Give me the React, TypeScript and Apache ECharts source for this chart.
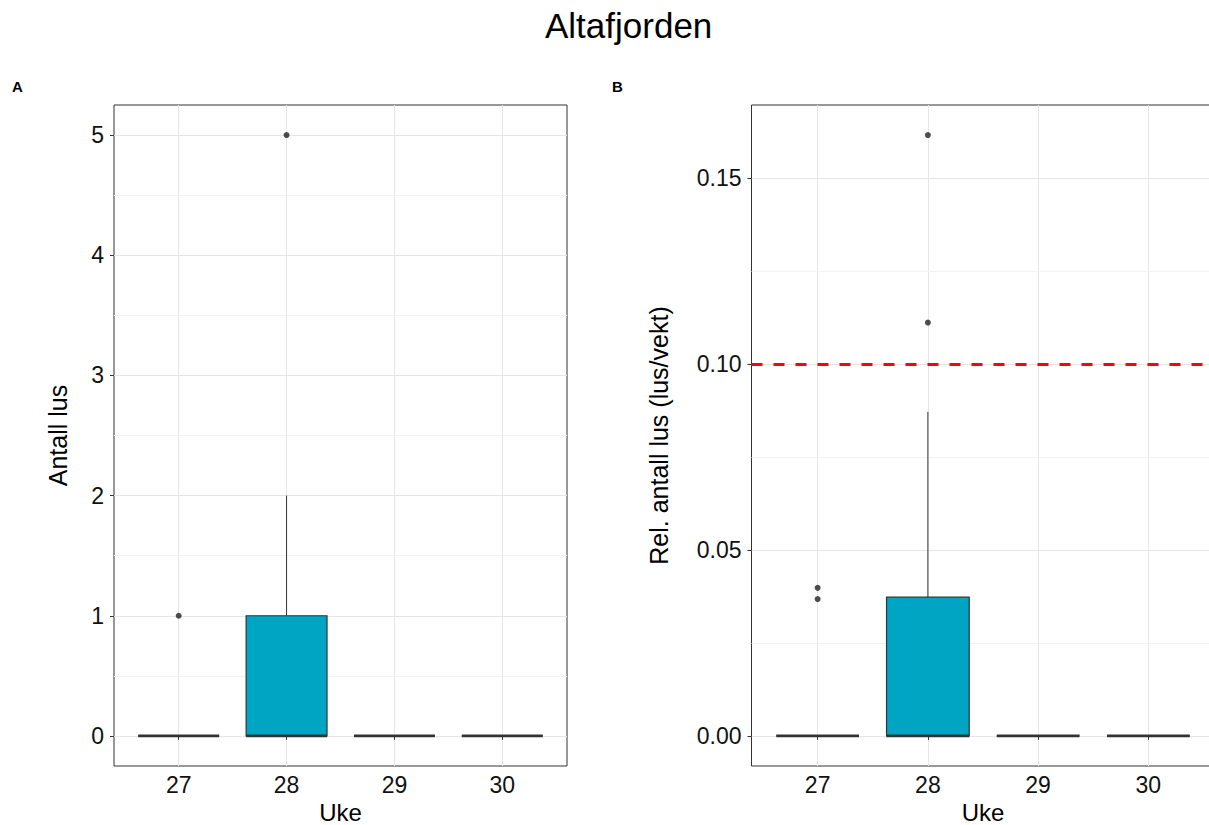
import React, { useEffect, useRef } from "react";
import * as echarts from "echarts";

// ---- data ----
const weeks = [27, 28, 29, 30];
// [min, Q1, median, Q3, max(whisker)] per week
const countStats = [
  [0, 0, 0, 0, 0],
  [0, 0, 0, 1, 2],
  [0, 0, 0, 0, 0],
  [0, 0, 0, 0, 0],
];
const countOutliers = [
  [27, 1],
  [28, 5],
];
const relStats = [
  [0, 0, 0, 0, 0],
  [0, 0, 0, 0.0373, 0.0871],
  [0, 0, 0, 0, 0],
  [0, 0, 0, 0, 0],
];
const relOutliers = [
  [27, 0.0398],
  [27, 0.0368],
  [28, 0.1111],
  [28, 0.1615],
];
const threshold = 0.1;
const countTicks = [0, 1, 2, 3, 4, 5];
const countMinorTicks = [0.5, 1.5, 2.5, 3.5, 4.5];
const relTicks = [0, 0.05, 0.1, 0.15];
const relMinorTicks = [0.025, 0.075, 0.125];

const BOX_FILL = "#00A5C4";
const DARK = "#333333";
const FONT = "Liberation Sans, Arial, sans-serif";
const BOX_HALF = 0.375;

const expand = (lo: number, hi: number) => {
  const r = hi - lo;
  return [lo - r * 0.05, hi + r * 0.05];
};

const boxData = (stats: number[][]) => weeks.map((w, i) => [w, ...stats[i]]);

const renderBox = (params: any, api: any) => {
  const x = api.value(0);
  const lo = api.value(1);
  const q1 = api.value(2);
  const med = api.value(3);
  const q3 = api.value(4);
  const hi = api.value(5);
  const tl = api.coord([x - BOX_HALF, q3]);
  const br = api.coord([x + BOX_HALF, q1]);
  const mL = api.coord([x - BOX_HALF, med]);
  const mR = api.coord([x + BOX_HALF, med]);
  const wt0 = api.coord([x, q3]);
  const wt1 = api.coord([x, hi]);
  const wb0 = api.coord([x, q1]);
  const wb1 = api.coord([x, lo]);
  return {
    type: "group",
    children: [
      {
        type: "line",
        shape: { x1: wt0[0], y1: wt0[1], x2: wt1[0], y2: wt1[1] },
        style: { stroke: DARK, lineWidth: 1 },
      },
      {
        type: "line",
        shape: { x1: wb0[0], y1: wb0[1], x2: wb1[0], y2: wb1[1] },
        style: { stroke: DARK, lineWidth: 1 },
      },
      {
        type: "rect",
        shape: { x: tl[0], y: tl[1], width: br[0] - tl[0], height: br[1] - tl[1] },
        style: { fill: BOX_FILL, stroke: DARK, lineWidth: 1.2 },
      },
      {
        type: "line",
        shape: { x1: mL[0], y1: mL[1], x2: mR[0], y2: mR[1] },
        style: { stroke: DARK, lineWidth: 2.8 },
      },
    ],
  };
};

export default function App() {
  const ref = useRef<HTMLDivElement>(null);
  useEffect(() => {
    if (!ref.current) return;
    const chart = echarts.init(ref.current, null, { renderer: "svg" });
    const [cMin, cMax] = expand(0, 5);
    const relMaxData = Math.max(...relOutliers.map((o) => o[1]));
    const [rMin, rMax] = expand(0, relMaxData);

    const xAxisBase = (gridIndex: number) => ({
      gridIndex,
      type: "value",
      min: 26.4,
      max: 30.6,
      axisLine: { show: false },
      axisTick: {
        show: true,
        length: 4,
        lineStyle: { color: DARK, width: 1 },
        customValues: weeks,
      },
      axisLabel: {
        customValues: weeks,
        fontSize: 23,
        color: "#111",
        fontFamily: FONT,
        margin: 7,
      },
      splitLine: { show: true, lineStyle: { color: "#e6e6e6", width: 1 } },
      name: "Uke",
      nameLocation: "middle",
      nameGap: 30,
      nameTextStyle: { fontSize: 24, color: "#000", fontFamily: FONT },
    });

    const yMajor = (
      gridIndex: number,
      min: number,
      max: number,
      ticks: number[],
      name: string,
      nameGap: number,
      digits: number
    ) => ({
      gridIndex,
      type: "value",
      min,
      max,
      axisLine: { show: false },
      axisTick: {
        show: true,
        length: 4,
        lineStyle: { color: DARK, width: 1 },
        customValues: ticks,
      },
      axisLabel: {
        customValues: ticks,
        fontSize: 23,
        color: "#111",
        fontFamily: FONT,
        margin: 10,
        formatter: (v: number) => v.toFixed(digits),
      },
      splitLine: { show: true, lineStyle: { color: "#e6e6e6", width: 1 } },
      name,
      nameLocation: "middle",
      nameGap,
      nameTextStyle: { fontSize: 25, color: "#000", fontFamily: FONT },
      z: 3,
    });

    const yMinor = (gridIndex: number, min: number, max: number, ticks: number[]) => ({
      gridIndex,
      type: "value",
      position: "left",
      min,
      max,
      axisLine: { show: false },
      axisTick: { show: false, customValues: ticks },
      axisLabel: { show: false, customValues: ticks },
      splitLine: { show: true, lineStyle: { color: "#f2f2f2", width: 1 } },
      z: 1,
    });

    chart.setOption({
      animation: false,
      backgroundColor: "#ffffff",
      title: {
        text: "Altafjorden",
        left: 540,
        top: 3,
        textStyle: { fontSize: 35, fontWeight: "normal", color: "#000", fontFamily: FONT },
      },
      graphic: [
        {
          type: "text",
          left: 12,
          top: 79,
          style: { text: "A", fontSize: 15, fontWeight: "bold", fill: "#000", fontFamily: FONT },
        },
        {
          type: "text",
          left: 612,
          top: 79,
          style: { text: "B", fontSize: 15, fontWeight: "bold", fill: "#000", fontFamily: FONT },
        },
      ],
      grid: [
        {
          left: 114,
          top: 105,
          width: 453,
          height: 661,
          show: true,
          borderColor: DARK,
          borderWidth: 1,
          backgroundColor: "transparent",
          outerBoundsMode: "none",
        },
        {
          left: 751.5,
          top: 105,
          width: 463,
          height: 661,
          show: true,
          borderColor: DARK,
          borderWidth: 1,
          backgroundColor: "transparent",
          outerBoundsMode: "none",
        },
      ],
      xAxis: [xAxisBase(0), xAxisBase(1)],
      yAxis: [
        yMajor(0, cMin, cMax, countTicks, "Antall lus", 44, 0),
        yMinor(0, cMin, cMax, countMinorTicks),
        yMajor(1, rMin, rMax, relTicks, "Rel. antall lus (lus/vekt)", 80, 2),
        yMinor(1, rMin, rMax, relMinorTicks),
      ],
      series: [
        {
          type: "custom",
          name: "Antall lus",
          xAxisIndex: 0,
          yAxisIndex: 0,
          renderItem: renderBox,
          encode: { x: 0, y: [1, 2, 3, 4, 5] },
          data: boxData(countStats),
          z: 3,
        },
        {
          type: "scatter",
          name: "Antall lus uteliggere",
          xAxisIndex: 0,
          yAxisIndex: 0,
          symbol: "circle",
          symbolSize: 6,
          itemStyle: { color: "#222" },
          data: countOutliers,
          z: 4,
        },
        {
          type: "custom",
          name: "Rel. antall lus",
          xAxisIndex: 1,
          yAxisIndex: 2,
          renderItem: renderBox,
          encode: { x: 0, y: [1, 2, 3, 4, 5] },
          data: boxData(relStats),
          z: 3,
        },
        {
          type: "scatter",
          name: "Rel. antall lus uteliggere",
          xAxisIndex: 1,
          yAxisIndex: 2,
          symbol: "circle",
          symbolSize: 6,
          itemStyle: { color: "#222" },
          data: relOutliers,
          z: 4,
          markLine: {
            silent: true,
            symbol: ["none", "none"],
            label: { show: false },
            lineStyle: { color: "#ff0000", width: 2.8, type: [11, 11] },
            data: [{ yAxis: threshold }],
          },
        },
      ],
    });
    return () => chart.dispose();
  }, []);
  return (
    <div
      ref={ref}
      style={{ position: "absolute", left: 0, top: 0, width: 1209, height: 825 }}
    />
  );
}
